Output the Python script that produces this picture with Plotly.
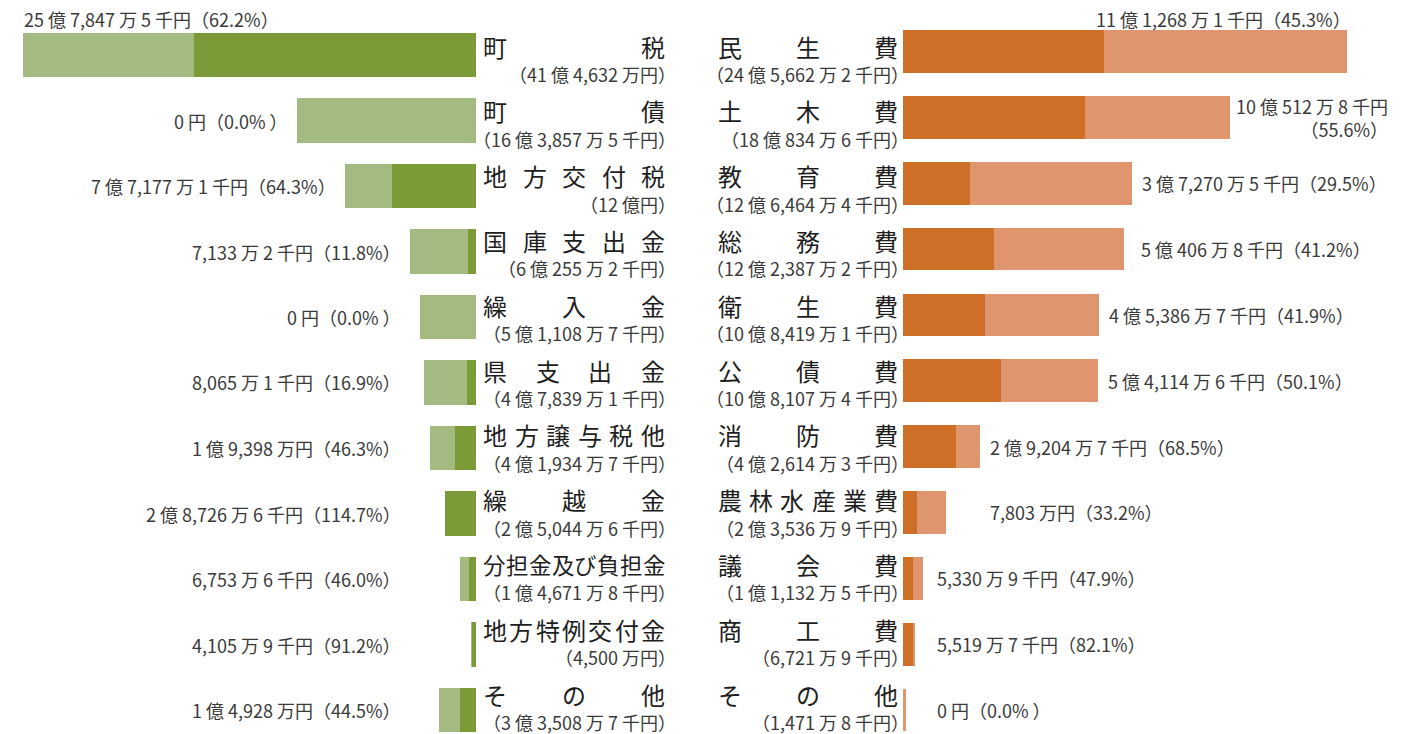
import plotly.graph_objects as go

# ---------------- data (units: 万円) ----------------
rev_names = ["町税", "町債", "地方交付税", "国庫支出金", "繰入金", "県支出金",
             "地方譲与税他", "繰越金", "分担金及び負担金", "地方特例交付金", "その他"]
rev_budget = [414632.0, 163857.5, 120000.0, 60255.2, 51108.7, 47839.1,
              41934.7, 25044.6, 14671.8, 4500.0, 33508.7]
rev_actual = [257847.5, 0.0, 77177.1, 7133.2, 0.0, 8065.1,
              19398.0, 28726.6, 6753.6, 4105.9, 14928.0]
rev_budget_labels = ["（41 億 4,632 万円）", "（16 億 3,857 万 5 千円）", "（12 億円）",
                     "（6 億 255 万 2 千円）", "（5 億 1,108 万 7 千円）", "（4 億 7,839 万 1 千円）",
                     "（4 億 1,934 万 7 千円）", "（2 億 5,044 万 6 千円）", "（1 億 4,671 万 8 千円）",
                     "（4,500 万円）", "（3 億 3,508 万 7 千円）"]
rev_value_labels = ["25 億 7,847 万 5 千円（62.2%）", "0 円（0.0% ）", "7 億 7,177 万 1 千円（64.3%）",
                    "7,133 万 2 千円（11.8%）", "0 円（0.0% ）", "8,065 万 1 千円（16.9%）",
                    "1 億 9,398 万円（46.3%）", "2 億 8,726 万 6 千円（114.7%）",
                    "6,753 万 6 千円（46.0%）", "4,105 万 9 千円（91.2%）", "1 億 4,928 万円（44.5%）"]

exp_names = ["民生費", "土木費", "教育費", "総務費", "衛生費", "公債費",
             "消防費", "農林水産業費", "議会費", "商工費", "その他"]
exp_budget = [245662.2, 180834.6, 126464.4, 122387.2, 108419.1, 108107.4,
              42614.3, 23536.9, 11132.5, 6721.9, 1471.8]
exp_actual = [111268.1, 100512.8, 37270.5, 50406.8, 45386.7, 54114.6,
              29204.7, 7803.0, 5330.9, 5519.7, 0.0]
exp_budget_labels = ["（24 億 5,662 万 2 千円）", "（18 億 834 万 6 千円）", "（12 億 6,464 万 4 千円）",
                     "（12 億 2,387 万 2 千円）", "（10 億 8,419 万 1 千円）", "（10 億 8,107 万 4 千円）",
                     "（4 億 2,614 万 3 千円）", "（2 億 3,536 万 9 千円）", "（1 億 1,132 万 5 千円）",
                     "（6,721 万 9 千円）", "（1,471 万 8 千円）"]
exp_value_labels = ["11 億 1,268 万 1 千円（45.3%）", "10 億 512 万 8 千円<br>（55.6%）",
                    "3 億 7,270 万 5 千円（29.5%）", "5 億 406 万 8 千円（41.2%）",
                    "4 億 5,386 万 7 千円（41.9%）", "5 億 4,114 万 6 千円（50.1%）",
                    "2 億 9,204 万 7 千円（68.5%）", "7,803 万円（33.2%）",
                    "5,330 万 9 千円（47.9%）", "5,519 万 7 千円（82.1%）", "0 円（0.0% ）"]

# ---------------- layout / style ----------------
W, H = 1408, 734
FONT = "Noto Sans CJK JP"
TXT = "#3a3a3a"
CAT_COLOR = "#1e1e1e"
GREEN_DARK, GREEN_LIGHT = "#7a9b37", "#a3ba80"
ORANGE_DARK, ORANGE_LIGHT = "#cd6f26", "#df956e"

L_ZERO, L_END = 476, 23          # px of left axis 0 and of largest revenue
R_ZERO, R_END = 903, 1347        # px of right axis 0 and of largest expenditure
n = len(rev_names)
rows = list(range(n))

l_scale = (L_ZERO - L_END) / max(rev_budget)
r_scale = (R_END - R_ZERO) / max(exp_budget)

def l_px(v):
    return L_ZERO - v * l_scale

def r_px(v):
    return R_ZERO + v * r_scale

rev_rest = [max(b - a, 0) for b, a in zip(rev_budget, rev_actual)]
exp_rest = [max(b - a, 0) for b, a in zip(exp_budget, exp_actual)]

fig = go.Figure()
fig.add_trace(go.Bar(y=rows, x=rev_actual, orientation="h", marker_color=GREEN_DARK,
                     marker_line_width=0, width=0.672, xaxis="x", yaxis="y", hoverinfo="skip"))
fig.add_trace(go.Bar(y=rows, x=rev_rest, orientation="h", marker_color=GREEN_LIGHT,
                     marker_line_width=0, width=0.672, xaxis="x", yaxis="y", hoverinfo="skip"))
fig.add_trace(go.Bar(y=rows, x=exp_actual, orientation="h", marker_color=ORANGE_DARK,
                     marker_line_width=0, width=0.65, xaxis="x2", yaxis="y2", hoverinfo="skip"))
fig.add_trace(go.Bar(y=rows, x=exp_rest, orientation="h", marker_color=ORANGE_LIGHT,
                     marker_line_width=0, width=0.65, xaxis="x2", yaxis="y2", hoverinfo="skip"))

# row geometry (pixels)
L_ROW0, L_PITCH = 55.0, 65.5
R_ROW0, R_PITCH = 51.5, 65.85
T_ROW0, T_PITCH = 47.0, 64.8

def py(p):
    return 1 - p / H

ann = []

def add(x_px, y_px, text, size, xanchor="center", align="left", color=TXT):
    ann.append(dict(x=x_px / W, y=py(y_px), xref="paper", yref="paper", text=text,
                    showarrow=False, xanchor=xanchor, yanchor="middle", align=align,
                    font=dict(family=FONT, size=size, color=color), borderpad=0))

CAT_FS = 24
SUB_FS = 18
VAL_FS = 18
BLANK = 0.68  # trailing blank of a full-width closing paren, in em


def distribute(name, x0, x1, y_px):
    k = len(name)
    fs = min(CAT_FS, (x1 - x0) / k - 0.3)
    step = (x1 - x0 - fs) / (k - 1)
    for i, ch in enumerate(name):
        add(x0 + fs / 2 + i * step, y_px, ch, fs, color=CAT_COLOR)


for i in rows:
    ty = T_ROW0 + T_PITCH * i
    distribute(rev_names[i], 483, 665, ty - 1)
    add(665 + BLANK * SUB_FS, ty + 27, rev_budget_labels[i], SUB_FS, xanchor="right")
    distribute(exp_names[i], 718, 898, ty - 1)
    add(898 + BLANK * SUB_FS, ty + 27, exp_budget_labels[i], SUB_FS, xanchor="right")

# value labels
for i in rows:
    yl = L_ROW0 + L_PITCH * i
    if i == 0:
        add(l_px(rev_budget[i]), 19, rev_value_labels[i], VAL_FS, xanchor="left")
    else:
        add(min(390, l_px(rev_budget[i]) - 20) + BLANK * VAL_FS, yl, rev_value_labels[i],
            VAL_FS, xanchor="right")

r_nudge = [0, 0, 0, 7, 0, 0, 0, 34, 0, 0, 0]
for i in rows:
    yr = R_ROW0 + R_PITCH * i
    if i == 0:
        add(r_px(exp_budget[i]) + 5, 19, exp_value_labels[i], VAL_FS, xanchor="right")
    elif "<br>" in exp_value_labels[i]:
        add(r_px(exp_budget[i]) + 5, yr, exp_value_labels[i], VAL_FS, xanchor="left", align="right")
    else:
        add(max(r_px(exp_budget[i]) + 9, 936) + r_nudge[i], yr, exp_value_labels[i],
            VAL_FS, xanchor="left")

def yrange(row0, pitch):
    return [(H - row0) / pitch, -row0 / pitch]

hidden = dict(visible=False, showgrid=False, zeroline=False, fixedrange=True)
fig.update_layout(
    width=W, height=H, autosize=False,
    margin=dict(l=0, r=0, t=0, b=0, pad=0),
    paper_bgcolor="white", plot_bgcolor="rgba(0,0,0,0)",
    barmode="stack", showlegend=False,
    xaxis=dict(domain=[L_END / W, L_ZERO / W], range=[max(rev_budget), 0], anchor="y", **hidden),
    yaxis=dict(domain=[0, 1], range=yrange(L_ROW0, L_PITCH), anchor="x", **hidden),
    xaxis2=dict(domain=[R_ZERO / W, R_END / W], range=[0, max(exp_budget)], anchor="y2", **hidden),
    yaxis2=dict(domain=[0, 1], range=yrange(R_ROW0, R_PITCH), anchor="x2", **hidden),
    annotations=ann,
    font=dict(family=FONT, color=TXT),
)

fig.write_html("out.html", post_script="document.body.style.margin='0';",
               config={"displayModeBar": False})
